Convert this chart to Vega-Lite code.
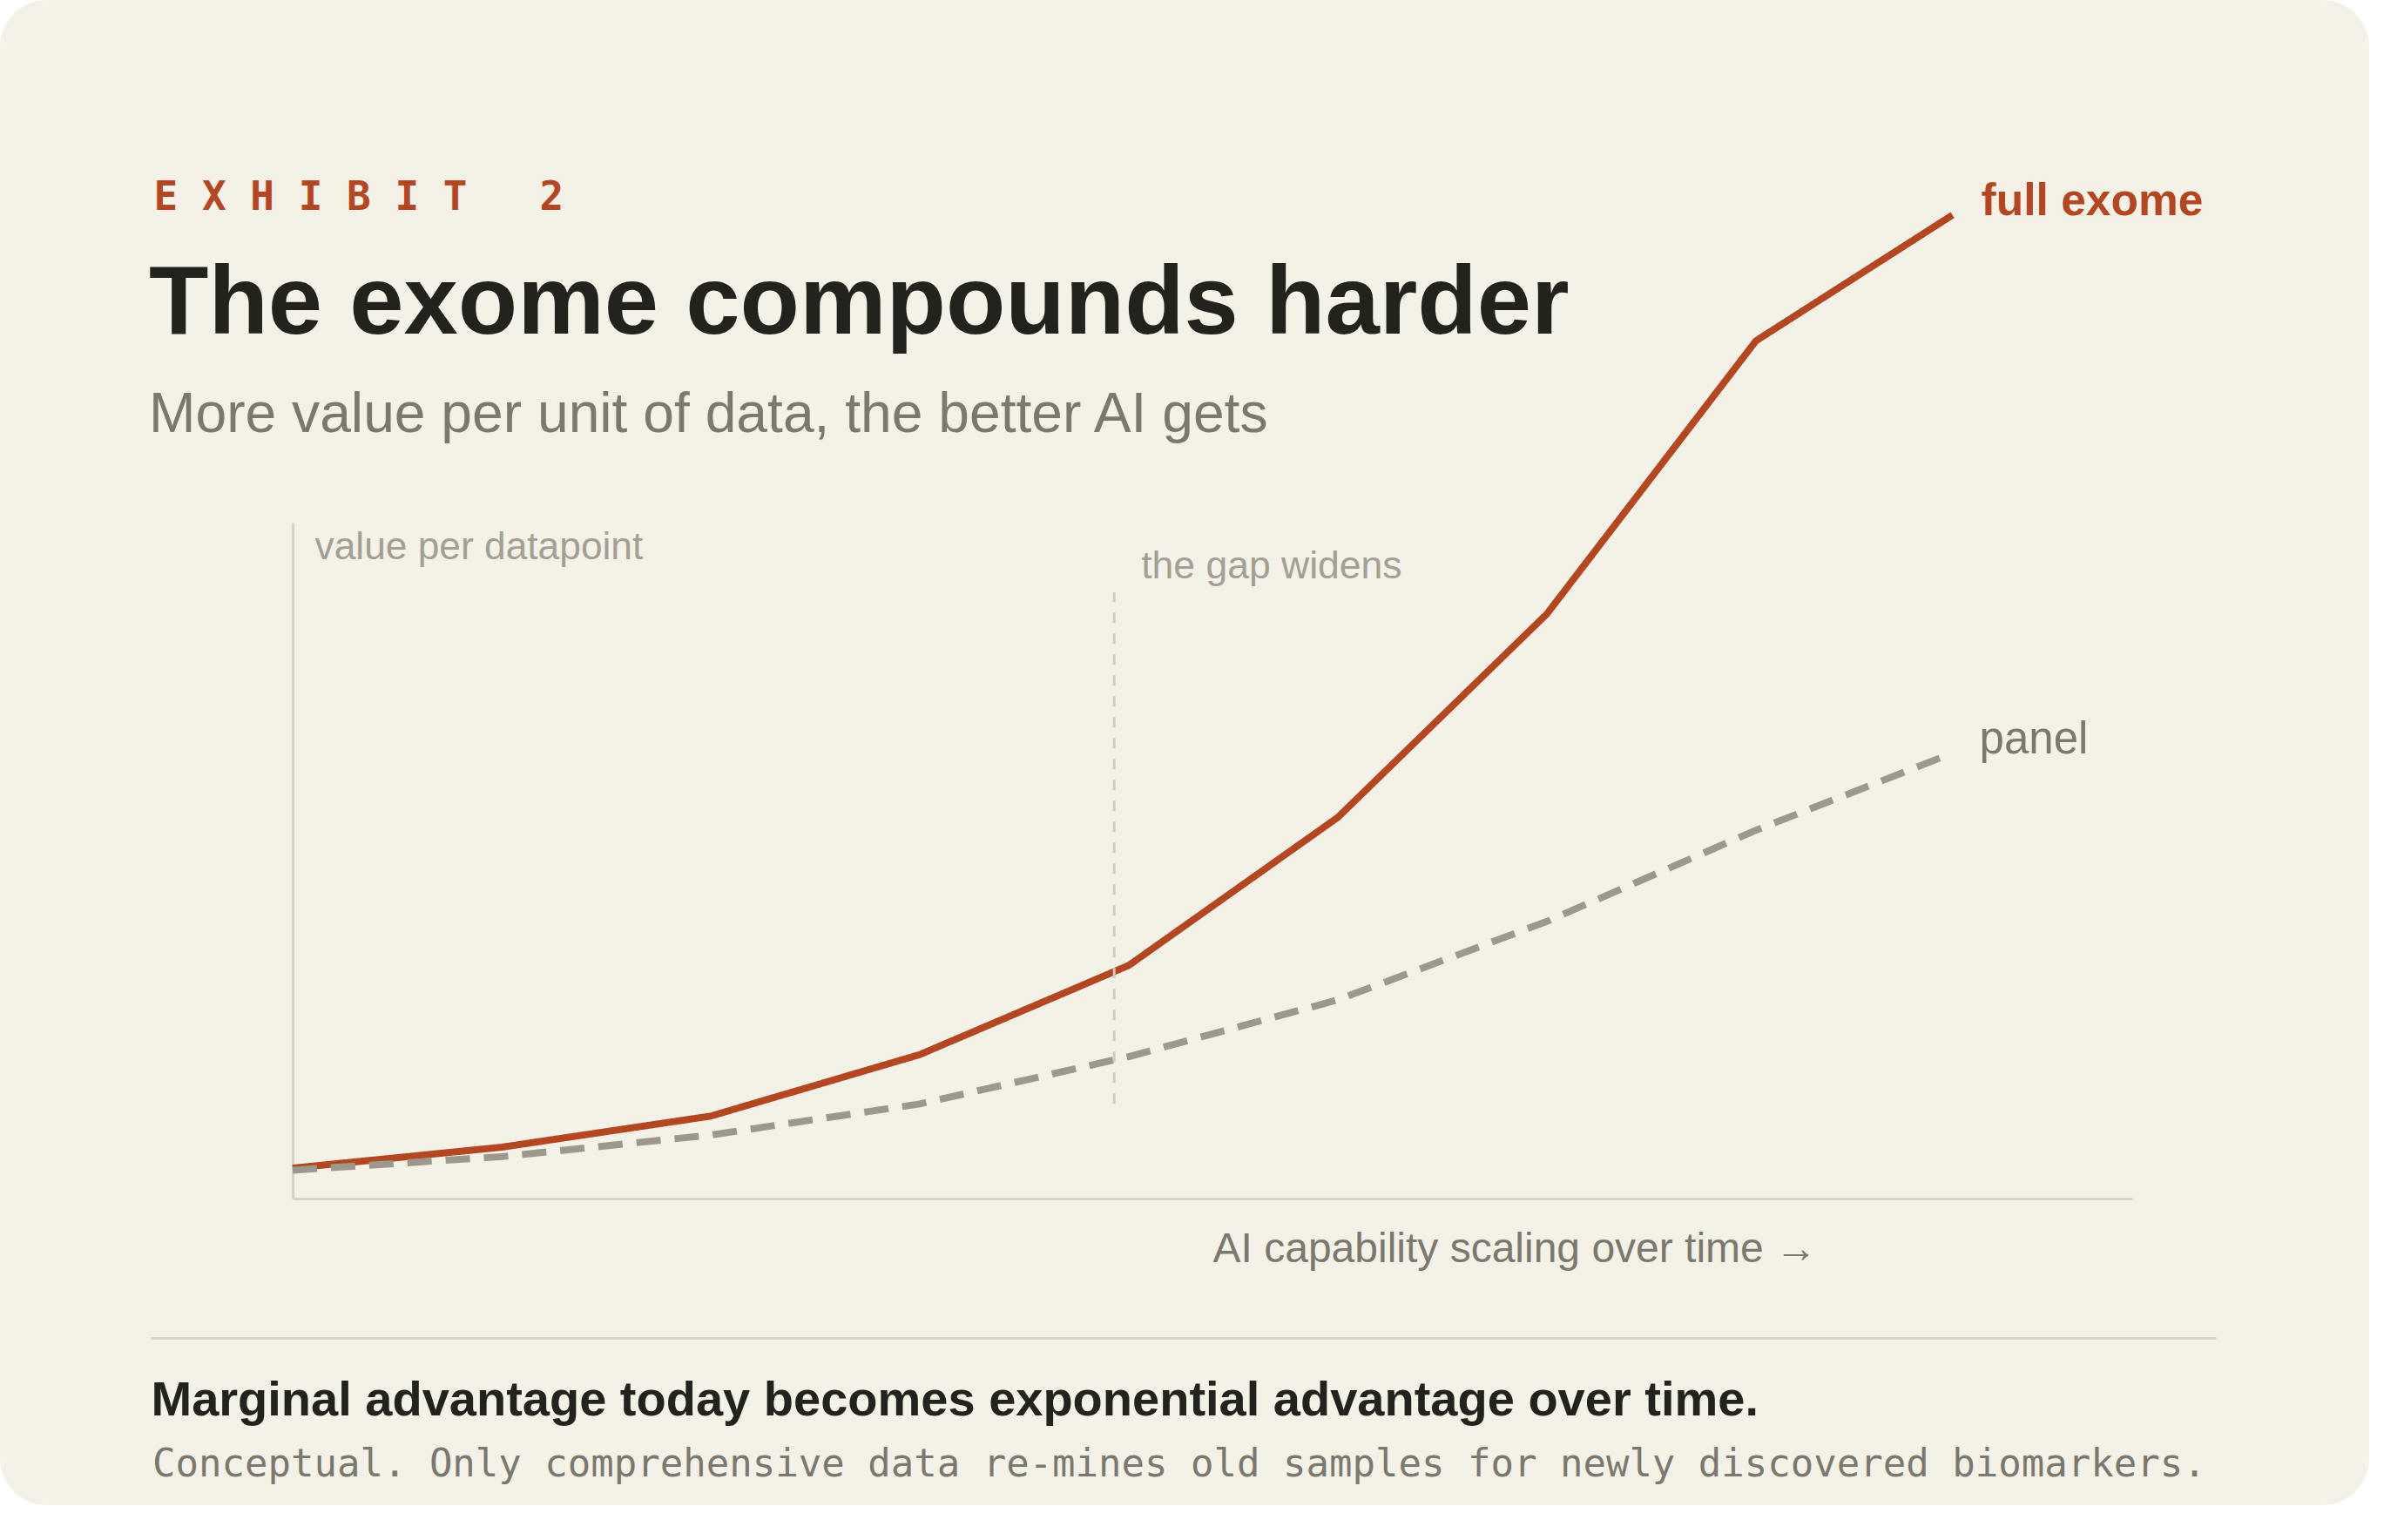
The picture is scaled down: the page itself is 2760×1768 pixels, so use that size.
{
  "$schema": "https://vega.github.io/schema/vega-lite/v6.json",
  "width": 2720,
  "height": 1728,
  "autosize": {"type": "none"},
  "padding": {"left": 0, "top": 0, "right": 40, "bottom": 40},
  "background": "#ffffff",
  "config": {
    "view": {"fill": "#f4f1e7", "stroke": null, "cornerRadius": 54},
    "font": "Liberation Sans",
    "axis": {
      "grid": false,
      "ticks": false,
      "labels": false,
      "domain": false,
      "titleFont": "Liberation Sans",
      "titleFontWeight": "normal",
      "titleLimit": 3000,
      "titleAngle": 0,
      "titleAlign": "left",
      "titleBaseline": "alphabetic"
    }
  },
  "title": {
    "text": "The exome compounds harder",
    "subtitle": "More value per unit of data, the better AI gets",
    "orient": "top",
    "anchor": "start",
    "frame": "group",
    "dx": 171,
    "offset": -511,
    "font": "Liberation Sans",
    "fontSize": 112,
    "fontWeight": "bold",
    "color": "#23221d",
    "subtitleFont": "Liberation Sans",
    "subtitleFontSize": 64.2,
    "subtitleFontWeight": "normal",
    "subtitleColor": "#7b786e",
    "subtitlePadding": 38
  },
  "datasets": {
    "series": [
      {"t": 0, "value": 4.5, "series": "full exome"},
      {"t": 1, "value": 7.6, "series": "full exome"},
      {"t": 2, "value": 12.2, "series": "full exome"},
      {"t": 3, "value": 21.3, "series": "full exome"},
      {"t": 4, "value": 34.5, "series": "full exome"},
      {"t": 5, "value": 56.4, "series": "full exome"},
      {"t": 6, "value": 86.5, "series": "full exome"},
      {"t": 7, "value": 126.9, "series": "full exome"},
      {"t": 7.94, "value": 145.5, "series": "full exome"},
      {"t": 0, "value": 4.2, "series": "panel"},
      {"t": 1, "value": 6.2, "series": "panel"},
      {"t": 2, "value": 9.4, "series": "panel"},
      {"t": 3, "value": 14.0, "series": "panel"},
      {"t": 4, "value": 21.0, "series": "panel"},
      {"t": 5, "value": 29.4, "series": "panel"},
      {"t": 6, "value": 41.0, "series": "panel"},
      {"t": 7, "value": 54.5, "series": "panel"},
      {"t": 7.94, "value": 65.9, "series": "panel"}
    ],
    "gap": [
      {"t": 3.93, "lo": 14.0, "hi": 89.7, "note": "the gap widens"}
    ]
  },
  "layer": [
    {
      "data": {"name": "series"},
      "mark": {"type": "line", "strokeWidth": 8, "strokeCap": "butt"},
      "encoding": {
        "x": {
          "field": "t",
          "type": "quantitative",
          "scale": {"domain": [0, 8.8], "range": [336, 2448], "nice": false, "zero": false},
          "axis": {
            "orient": "bottom",
            "offset": -352,
            "domain": true,
            "domainColor": "#d9d3c5",
            "domainWidth": 3.2,
            "title": "AI capability scaling over time →",
            "titleX": 1392,
            "titleY": 72,
            "titleFontSize": 48,
            "titleColor": "#7b786e"
          }
        },
        "y": {
          "field": "value",
          "type": "quantitative",
          "scale": {"domain": [0, 100], "range": [1376, 600], "nice": false, "zero": false},
          "axis": {
            "orient": "left",
            "offset": -336,
            "domain": true,
            "domainColor": "#d9d3c5",
            "domainWidth": 3.2,
            "title": "value per datapoint",
            "titleX": 25,
            "titleY": 641,
            "titleFontSize": 44.3,
            "titleColor": "#a39f93"
          }
        },
        "color": {
          "field": "series",
          "type": "nominal",
          "scale": {"domain": ["full exome", "panel"], "range": ["#b5461f", "#9d988b"]},
          "legend": {
            "orient": "none",
            "legendX": 175,
            "legendY": 1695,
            "padding": 0,
            "title": "Conceptual. Only comprehensive data re-mines old samples for newly discovered biomarkers.",
            "titleFont": "DejaVu Sans Mono",
            "titleFontSize": 44,
            "titleFontWeight": "normal",
            "titleColor": "#7b786e",
            "titleLimit": 3000,
            "titleBaseline": "alphabetic",
            "titlePadding": 0,
            "symbolOpacity": 0,
            "symbolStrokeWidth": 0,
            "labelOpacity": 0
          }
        },
        "strokeDash": {
          "field": "series",
          "type": "nominal",
          "scale": {"domain": ["full exome", "panel"], "range": [[1, 0], [28, 16]]},
          "legend": null
        }
      }
    },
    {
      "data": {"name": "gap"},
      "mark": {"type": "rule", "strokeWidth": 3, "strokeDash": [12, 12], "color": "#d2ccbd"},
      "encoding": {
        "x": {
          "field": "t",
          "type": "quantitative",
          "axis": {
            "orient": "top",
            "offset": 0,
            "title": "E\u00a0X\u00a0H\u00a0I\u00a0B\u00a0I\u00a0T\u00a0\u00a0\u00a02",
            "titleX": 176,
            "titleY": 240,
            "titleFont": "DejaVu Sans Mono",
            "titleFontSize": 46,
            "titleFontWeight": "bold",
            "titleColor": "#b5461f"
          }
        },
        "y": {
          "field": "lo",
          "type": "quantitative",
          "axis": {
            "orient": "right",
            "offset": -2547,
            "ticks": true,
            "values": [0],
            "tickOffset": 160,
            "tickSize": 2371,
            "tickColor": "#d9d3c5",
            "tickWidth": 3.2,
            "title": "Marginal advantage today becomes exponential advantage over time.",
            "titleX": 0,
            "titleY": 1624,
            "titleFontSize": 56,
            "titleFontWeight": "bold",
            "titleColor": "#23221d"
          }
        },
        "y2": {"field": "hi"}
      }
    },
    {
      "data": {"name": "gap"},
      "mark": {"type": "text", "align": "left", "baseline": "alphabetic", "dx": 31, "dy": -16, "fontSize": 44.5, "color": "#a39f93"},
      "encoding": {
        "x": {"field": "t", "type": "quantitative", "axis": null},
        "y": {"field": "hi", "type": "quantitative", "axis": null},
        "text": {"field": "note", "type": "nominal"}
      }
    },
    {
      "data": {"name": "series"},
      "transform": [
        {"joinaggregate": [{"op": "max", "field": "t", "as": "tmax"}]},
        {"filter": "datum.t === datum.tmax && datum.series === 'full exome'"}
      ],
      "mark": {"type": "text", "align": "left", "baseline": "alphabetic", "dx": 33, "fontSize": 51.5, "fontWeight": "bold", "color": "#b5461f"},
      "encoding": {
        "x": {"field": "t", "type": "quantitative", "axis": null},
        "y": {"field": "value", "type": "quantitative", "axis": null},
        "text": {"field": "series", "type": "nominal"}
      }
    },
    {
      "data": {"name": "series"},
      "transform": [
        {"joinaggregate": [{"op": "max", "field": "t", "as": "tmax"}]},
        {"filter": "datum.t === datum.tmax && datum.series === 'panel'"}
      ],
      "mark": {"type": "text", "align": "left", "baseline": "alphabetic", "dx": 31, "fontSize": 51, "color": "#7b786e"},
      "encoding": {
        "x": {"field": "t", "type": "quantitative", "axis": null},
        "y": {"field": "value", "type": "quantitative", "axis": null},
        "text": {"field": "series", "type": "nominal"}
      }
    }
  ],
  "resolve": {"axis": {"x": "independent", "y": "independent"}}
}
